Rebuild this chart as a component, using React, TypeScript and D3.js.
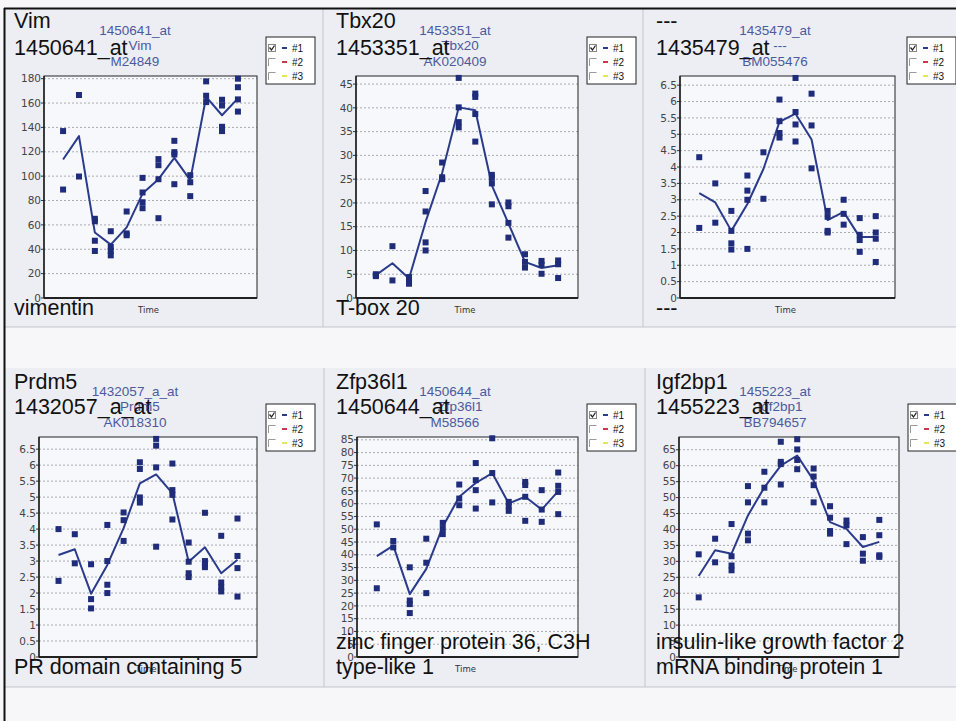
import React from 'react';
import * as d3 from 'd3';

// replicate values per time point (12 points)
const vimPoints = [[137, 89], [166.6, 99.7], [65, 63, 47, 38.6], [54.8, 41.9, 38.6, 35], [71, 53, 51.5], [98.6, 86.6, 78.6, 73.7], [114, 109, 97.5, 65.5], [129, 119.7, 117.8, 93.4], [100.8, 95, 83.6], [177.8, 166, 160.8], [162.7, 158, 140.5, 137], [180, 173, 163, 153]];
const vimLine = [113.7, 132.9, 53.7, 43.8, 58, 85.7, 97.5, 115, 96.7, 165, 150, 163.8];

const tbxPoints = [[4.8, 4.6, 5.0], [10.9, 3.7], [4.4, 3.4, 3.0], [22.5, 18.2, 11.7, 10], [28.5, 25.4, 25], [46.3, 40.1, 37, 35.9], [43, 42.3, 38.7, 32.9], [25.9, 25.3, 24.1, 19.7], [20.1, 19.3, 15.8, 12.7], [9.2, 7.6, 6.4], [7.8, 7.0, 5.1], [7.9, 7.1, 4.2]];
const tbxLine = [4.8, 7.3, 4.1, 16, 26.3, 40.1, 39.5, 23.7, 15.7, 7.6, 6.3, 6.9];

const p3Points = [[4.3, 2.14], [3.5, 2.3], [2.66, 2.05, 1.67, 1.48], [3.74, 3.28, 3.0, 1.5], [4.45, 3.03], [6.06, 5.4, 5.04, 4.9], [6.72, 5.68, 5.3, 4.78], [6.24, 5.27, 3.96], [2.66, 2.48, 2.05, 2.0], [3.0, 2.57, 2.24], [2.44, 1.93, 1.77, 1.41], [2.5, 2.0, 1.81, 1.1]];
const p3Line = [3.2, 2.92, 2.05, 2.87, 3.94, 5.38, 5.63, 4.84, 2.38, 2.63, 1.86, 1.86];

const prdmPoints = [[4.0, 2.38], [3.84, 2.93], [2.9, 1.81, 1.52], [4.13, 3.0, 2.26, 2.0], [4.52, 4.28, 3.63], [6.09, 5.88, 4.99, 4.83], [6.82, 6.61, 5.93, 3.45], [6.05, 5.22, 5.07, 4.3], [3.58, 2.98, 2.62, 2.5], [4.51, 3.0, 2.9, 2.81], [3.79, 2.33, 2.18, 2.05], [4.33, 3.16, 2.78, 1.89]];
const prdmLine = [3.19, 3.37, 1.98, 2.88, 4.03, 5.43, 5.71, 5.12, 2.98, 3.43, 2.62, 3.04];

const zfpPoints = [[51.9, 26.9], [45.4, 42.9], [35.1, 22.1, 20.7, 17.2], [46.3, 36.9, 25], [52.5, 50.3, 48.1], [67.5, 62, 59.4], [75.9, 69.2, 65.3, 58.1], [85.6, 72, 60.5], [60.7, 59, 57.2], [68.5, 67.3, 62.7, 53.3], [65.3, 57.7, 52.9], [72.2, 67, 64.6, 55.9]];
const zfpLine = [39.5, 43.6, 24.6, 34.5, 51, 62.7, 68.1, 72, 60.1, 62.7, 57.7, 64.9];

const igfPoints = [[32.2, 18.7], [37.1, 29.7], [41.7, 31.6, 28.7, 27.2], [53.6, 48.5, 38.7, 36.6], [58.1, 53.1, 48.5], [67.5, 61.2, 60.5, 54.1], [68.3, 65.1, 61.8, 58.9], [59.1, 56.6, 53.9, 48.5], [47.3, 43.7, 39.5, 38.7], [42.8, 41.3, 35.4], [37.6, 32.4, 30.2], [43.0, 38.2, 31.9, 31.4]];
const igfLine = [25.4, 33.5, 32.4, 44.4, 53.2, 60, 63.2, 55.4, 42.3, 40.2, 34.5, 36.1];

const symbols = ['Vim', 'Tbx20', '---', 'Prdm5', 'Zfp36l1', 'Igf2bp1'];
const probeIds = ['1450641_at', '1453351_at', '1435479_at', '1432057_a_at', '1450644_at', '1455223_at'];
const accessions = ['M24849', 'AK020409', 'BM055476', 'AK018310', 'M58566', 'BB794657'];
const descriptions = [['vimentin'], ['T-box 20'], ['---'], ['PR domain containing 5'], ['zinc finger protein 36, C3H', 'type-like 1'], ['insulin-like growth factor 2', 'mRNA binding protein 1']];
const yMaxes = [182.2, 46.7, 6.78, 6.88, 86.1, 69];
const tickSteps = [20, 5, 0.5, 0.5, 5, 5];
const legendLabels = ['#1', '#2', '#3'];
const legendColors = ['#2b3b8c', '#d0374a', '#e6e65a'];
const timePoints = d3.range(12);

const allPoints = [vimPoints, tbxPoints, p3Points, prdmPoints, zfpPoints, igfPoints];
const allLines = [vimLine, tbxLine, p3Line, prdmLine, zfpLine, igfLine];

// layout of each panel (pixels)
const rows = [
  { nameY: 28, idY: 55, blueY: [35, 50, 66], top: 76, bottom: 298, legendY: 37 },
  { nameY: 389, idY: 414, blueY: [396, 411, 427], top: 437, bottom: 657, legendY: 404 },
];
const cols = [
  { titleX: 14, blueX: 135, plots: [[44, 257], [39, 257]], legendX: [266, 266] },
  { titleX: 336, blueX: 455, plots: [[356, 578], [357, 578]], legendX: [587, 587] },
  { titleX: 656, blueX: 775, plots: [[680, 895], [679, 899]], legendX: [907, 908] },
];

const BLACK_FONT = '"Liberation Sans", Arial, sans-serif';
const TICK_FONT = '"DejaVu Sans", Verdana, sans-serif';
const NAVY = '#1f2c7a';

function Panel({ idx }: { idx: number }) {
  const r = rows[Math.floor(idx / 3)];
  const ci = idx % 3;
  const c = cols[ci];
  const ri = Math.floor(idx / 3);
  const [left, right] = c.plots[ri];
  const x = d3.scalePoint<number>().domain(timePoints).range([left, right]).padding(1.2);
  const y = d3.scaleLinear().domain([0, yMaxes[idx]]).range([r.bottom, r.top]);
  const ticks = d3.range(0, yMaxes[idx] + 1e-9, tickSteps[idx]).map(v => +v.toFixed(2));
  const line = d3.line<number>().x((_, i) => x(i)!).y(d => y(d));
  const pts = allPoints[idx];
  const desc = descriptions[idx];
  const lx = c.legendX[ri];
  const ly = r.legendY;

  return (
    <g>
      <rect x={left} y={r.top} width={right - left} height={r.bottom - r.top} fill="#f7f8fb" />
      {ticks.filter(t => t > 0).map(t => (
        <line key={t} x1={left} x2={right} y1={y(t)} y2={y(t)} stroke="#a9abb3" strokeDasharray="2,2" strokeWidth={1} />
      ))}
      {ticks.map(t => (
        <g key={'t' + t}>
          <line x1={left - 3} x2={left} y1={y(t)} y2={y(t)} stroke="#333" />
          <text x={left - 3} y={y(t)} dy="0.35em" textAnchor="end" fontFamily={TICK_FONT} fontSize={10.5} fill="#444">{t}</text>
        </g>
      ))}
      <rect x={left} y={r.top} width={right - left} height={r.bottom - r.top} fill="none" stroke="#222" strokeWidth={1} />
      <line x1={left} x2={right} y1={r.bottom} y2={r.bottom} stroke="#222" strokeWidth={2} />
      <line x1={left} x2={left} y1={r.top} y2={r.bottom} stroke="#222" strokeWidth={1.5} />
      <path d={line(allLines[idx]) || ''} fill="none" stroke="#2b3b8c" strokeWidth={2} strokeLinejoin="round" />
      {pts.map((vals, i) => vals.map((v, j) => (
        <rect key={i + '-' + j} x={x(i)! - 3} y={y(v) - 3} width={6} height={6} fill={NAVY} />
      )))}
      <text x={(left + right) / 2 - 2} y={r.bottom + 15} textAnchor="middle" fontFamily={TICK_FONT} fontSize={8.5} fill="#333">Time</text>

      {/* blue header of the chart */}
      <g fontFamily={BLACK_FONT} fontSize={13.5} fill="#4b5a9c" textAnchor="middle">
        <text x={c.blueX} y={r.blueY[0]}>{probeIds[idx]}</text>
        <text x={c.blueX + 5} y={r.blueY[1]}>{symbols[idx]}</text>
        <text x={c.blueX} y={r.blueY[2]}>{accessions[idx]}</text>
      </g>
      {/* black annotations */}
      <g fontFamily={BLACK_FONT} fontSize={21.5} fill="#111">
        <text x={c.titleX} y={r.nameY}>{symbols[idx]}</text>
        <text x={c.titleX} y={r.idY}>{probeIds[idx]}</text>
        {desc.map((d, i) => (
          <text key={i} x={c.titleX} y={r.bottom + 17 - (desc.length - 1 - i) * 25}>{d}</text>
        ))}
      </g>

      {/* legend */}
      <rect x={lx} y={ly} width={49} height={47} fill="#fff" stroke="#222" strokeWidth={1} />
      {legendLabels.map((lab, i) => {
        const cy = ly + 11 + i * 14;
        return (
          <g key={lab}>
            {i === 0 ? (
              <g>
                <rect x={lx + 2.5} y={cy - 3.5} width={7} height={7} fill="#fff" stroke="#888" strokeWidth={1} />
                <path d={`M${lx + 3.5},${cy - 0.5} L${lx + 5.5},${cy + 2} L${lx + 8.5},${cy - 2.5}`} fill="none" stroke="#222" strokeWidth={1.3} />
              </g>
            ) : (
              <path d={`M${lx + 2.5},${cy + 4} V${cy - 3.5} H${lx + 9.5}`} fill="none" stroke="#999" strokeWidth={1} />
            )}
            <line x1={lx + 16} x2={lx + 21} y1={cy} y2={cy} stroke={legendColors[i]} strokeWidth={2} />
            <text x={lx + 26} y={cy} dy="0.35em" fontFamily={BLACK_FONT} fontSize={10} fill="#111">{lab}</text>
          </g>
        );
      })}
    </g>
  );
}

export default function App() {
  const width = 956;
  const height = 721;
  return (
    <div style={{ position: 'absolute', left: 0, top: 0 }}>
      <svg width={width} height={height} style={{ display: 'block' }}>
        <rect x={0} y={0} width={width} height={height} fill="#f7f7f9" />
        {/* cells */}
        <rect x={4} y={9} width={width - 4} height={318} fill="#eceef4" />
        <rect x={4} y={368} width={width - 4} height={319} fill="#eceef4" />
        <g stroke="#c3c5cc" strokeWidth={1}>
          <line x1={4} x2={width} y1={327} y2={327} />
          <line x1={4} x2={width} y1={687} y2={687} />
          <line x1={323} x2={323} y1={9} y2={327} />
          <line x1={643} x2={643} y1={9} y2={327} />
          <line x1={324} x2={324} y1={368} y2={687} />
          <line x1={645} x2={645} y1={368} y2={687} />
        </g>
        <line x1={4} x2={width} y1={8.5} y2={8.5} stroke="#111" strokeWidth={2} />
        <line x1={4.5} x2={4.5} y1={8} y2={height} stroke="#111" strokeWidth={2} />
        {symbols.map((_, i) => <Panel key={i} idx={i} />)}
      </svg>
    </div>
  );
}
